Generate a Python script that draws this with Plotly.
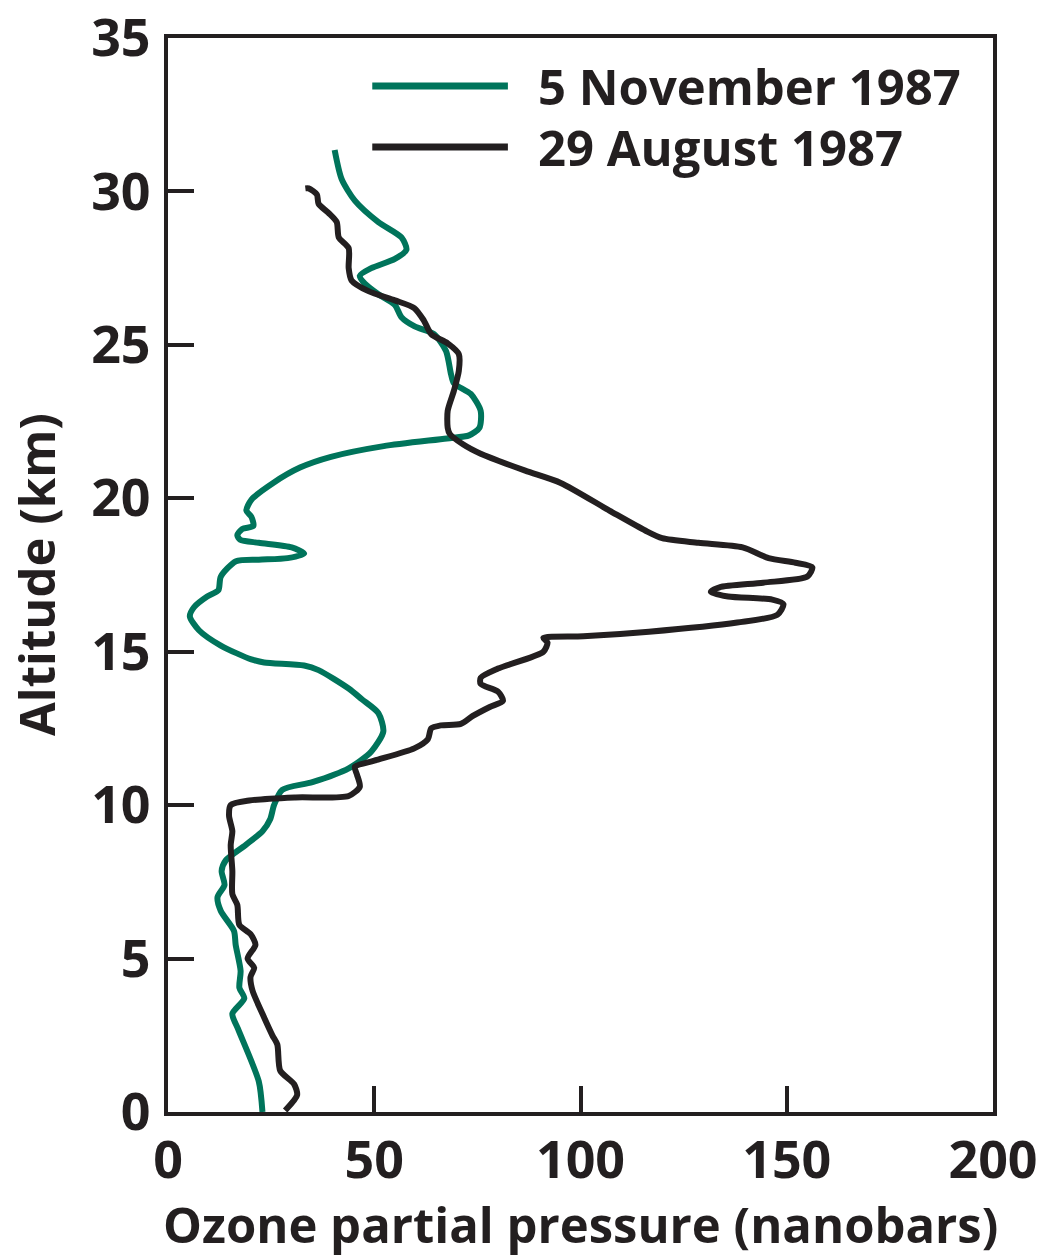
import plotly.graph_objects as go

# ---- data ----
nov_alt = [0.0, 1.0, 2.7, 3.2, 3.7, 4.05, 4.6, 5.45, 5.9, 6.55, 7.0, 7.4, 7.85, 8.2, 8.7,
           9.15, 9.55, 10.0, 10.5, 10.75, 11.2, 11.75, 12.4, 13.0, 13.45, 13.8, 14.4, 14.55,
           14.65, 14.75, 15.2, 15.7, 16.15, 16.45, 16.8, 17.0, 17.45, 17.95, 18.0, 18.05,
           18.2, 18.4, 18.55, 18.65, 18.8, 19.0, 19.1, 19.4, 19.6, 19.95, 20.5, 21.0, 21.35,
           21.7, 21.95, 22.05, 22.3, 22.85, 23.4, 23.75, 24.05, 24.8, 25.35, 25.6, 25.9,
           26.3, 26.65, 27.0, 27.25, 27.5, 27.8, 28.1, 28.5, 29.0, 29.7, 30.4, 31.35]
nov_ozone = [22.9, 22.0, 17.0, 15.6, 18.5, 17.3, 17.6, 16.4, 16.0, 12.8, 12.0, 13.7, 13.0, 14.0, 18.8,
             22.9, 24.8, 25.7, 27.7, 35.0, 43.8, 49.3, 52.2, 51.0, 47.0, 43.8, 36.5, 33.0,
             23.3, 20.2, 12.8, 7.5, 5.3, 6.3, 9.5, 12.2, 12.8, 16.5, 22.0, 29.0,
             33.0, 30.0, 22.0, 17.5, 16.8, 18.0, 20.7, 20.2, 19.0, 20.2, 25.5, 32.0, 39.5,
             52.3, 67.6, 73.0, 75.5, 75.8, 73.4, 69.3, 68.6, 67.4, 64.5, 59.8, 56.6,
             55.0, 51.0, 47.7, 46.5, 49.3, 55.0, 57.8, 56.6, 51.0, 45.3, 42.1, 40.4]

aug_alt = [0.05, 0.55, 0.9, 1.35, 2.2, 2.5, 3.2, 3.95, 4.4, 4.7, 5.0, 5.45, 5.8, 6.1, 6.75,
           7.1, 7.85, 8.7, 9.15, 9.65, 10.0, 10.15, 10.25, 10.3, 10.6, 11.0, 11.25, 11.45,
           11.85, 12.15, 12.5, 12.6, 12.65, 12.9, 13.2, 13.4, 13.7, 13.95, 14.15, 14.45,
           15.0, 15.3, 15.45, 15.5, 15.65, 15.95, 16.2, 16.55, 16.7, 16.8, 16.95, 17.1,
           17.25, 17.45, 17.75, 17.9, 18.05, 18.4, 18.55, 18.7, 18.95, 19.6, 20.5, 20.9,
           21.45, 21.75, 22.1, 22.3, 22.85, 23.5, 24.15, 24.7, 25.05, 25.35, 25.8, 26.2,
           26.45, 26.75, 27.1, 27.5, 28.15, 28.5, 29.0, 29.3, 29.6, 29.9, 30.1, 30.1]
aug_ozone = [28.4, 31.3, 30.6, 27.2, 26.5, 25.3, 22.9, 20.5, 20.0, 20.9, 19.3, 21.2, 20.0, 17.3, 16.8,
             15.6, 15.6, 15.2, 15.6, 14.8, 15.2, 19.7, 30.9, 43.8, 46.5, 45.8, 45.3, 50.0,
             59.7, 63.0, 63.8, 66.2, 71.0, 73.8, 78.0, 81.2, 80.0, 75.8, 75.8, 80.0,
             91.0, 92.0, 91.0, 100.7, 116.6, 138.0, 147.7, 149.2, 146.5, 135.8, 131.6, 133.7,
             144.3, 155.0, 156.2, 152.1, 145.6, 139.3, 128.6, 119.8, 115.7, 107.0, 95.2, 86.6,
             75.8, 71.6, 68.3, 67.8, 67.8, 69.3, 70.5, 70.5, 67.8, 63.8, 62.0, 59.7,
             55.0, 48.6, 44.5, 43.8, 43.8, 41.4, 40.9, 38.9, 36.5, 36.1, 34.1, 33.3]

series_names = ["5 November 1987", "29 August 1987"]
x_ticks = [0, 50, 100, 150, 200]
y_ticks = [0, 5, 10, 15, 20, 25, 30, 35]
x_title = "Ozone partial pressure (nanobars)"
y_title = "Altitude (km)"

GREEN = "#00745b"
DARK = "#231f20"
FONT = "Open Sans"

fig = go.Figure()
fig.add_trace(go.Scatter(x=nov_ozone, y=nov_alt, mode="lines", name=series_names[0],
                         line=dict(color=GREEN, width=6, shape="spline", smoothing=0.7),
                         showlegend=False))
fig.add_trace(go.Scatter(x=aug_ozone, y=aug_alt, mode="lines", name=series_names[1],
                         line=dict(color=DARK, width=6, shape="spline", smoothing=0.7),
                         showlegend=False))

# manual legend (long line samples as in the reference)
leg_y = [0.9553, 0.8985]
for name, col, yy in zip(series_names, [GREEN, DARK], leg_y):
    fig.add_shape(type="line", xref="paper", yref="paper", x0=0.2476, x1=0.412, y0=yy, y1=yy,
                  line=dict(color=col, width=7))
    fig.add_annotation(xref="paper", yref="paper", x=0.446, y=yy, text=name, showarrow=False,
                       xanchor="left", yanchor="middle",
                       font=dict(family=FONT, size=49, color=DARK, weight="bold"))

# axis titles placed as text in paper space
fig.add_annotation(xref="paper", yref="paper", x=0.5, y=-0.104, text=x_title, showarrow=False,
                   xanchor="center", yanchor="middle",
                   font=dict(family=FONT, size=49, color=DARK, weight="bold"))
fig.add_annotation(xref="paper", yref="paper", x=-0.160, y=0.5, text=y_title, showarrow=False,
                   textangle=-90, xanchor="center", yanchor="middle",
                   font=dict(family=FONT, size=49, color=DARK, weight="bold"))

axis_common = dict(showline=True, linecolor=DARK, linewidth=4, mirror=True, showgrid=False,
                   zeroline=False, ticks="inside", tickwidth=4, tickcolor=DARK, ticklen=26,
                   automargin=False, ticklabeloverflow="allow",
                   tickfont=dict(family=FONT, size=52, color=DARK, weight="bold"))

fig.update_layout(
    width=1039, height=1249,
    margin=dict(l=159.5, r=53.5, t=30, b=144.5),
    paper_bgcolor="white", plot_bgcolor="white",
    xaxis=dict(range=[0, 200], tickvals=x_ticks, ticktext=[str(v) for v in x_ticks],
               ticklabelstandoff=0, **axis_common),
    yaxis=dict(range=[0, 35], tickvals=y_ticks, ticktext=[str(v) for v in y_ticks],
               ticklabelstandoff=3, **axis_common),
)

fig.write_html("out.html")
